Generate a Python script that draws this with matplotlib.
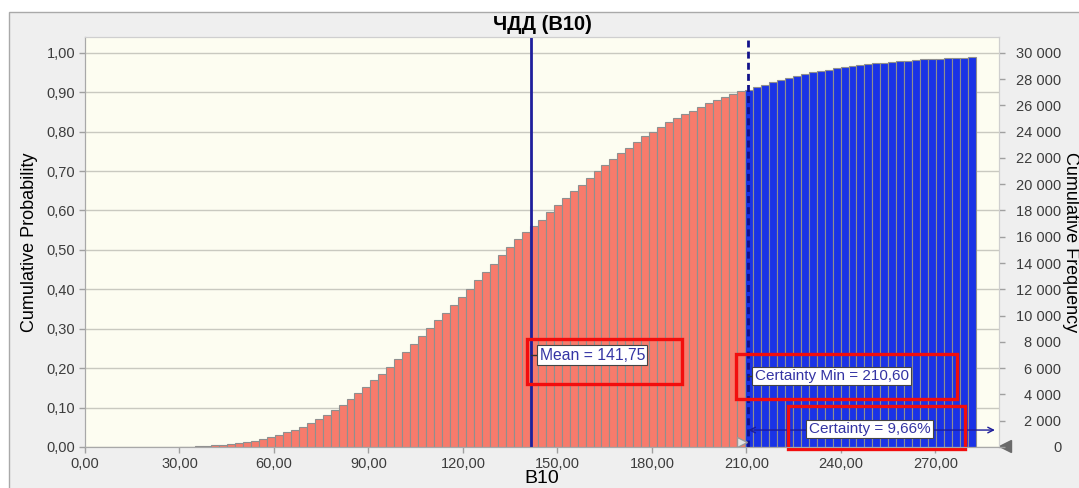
import matplotlib.pyplot as plt
import numpy as np
from matplotlib.patches import Rectangle
from matplotlib.ticker import FuncFormatter, MultipleLocator

plt.rcParams['font.family'] = ['Liberation Sans', 'DejaVu Sans']

# forecast B10, 30 000 trials, cumulative chart
trials = 30000
bin_start = 29.9
bin_width = 2.53
cum_prob = [
    0.0005, 0.001, 0.002, 0.003, 0.004, 0.006, 0.008, 0.010, 0.013, 0.016,
    0.020, 0.025, 0.031, 0.037, 0.044, 0.052, 0.061, 0.071, 0.082, 0.094,
    0.107, 0.121, 0.136, 0.152, 0.169, 0.186, 0.204, 0.223, 0.242, 0.261,
    0.281, 0.301, 0.321, 0.341, 0.361, 0.381, 0.402, 0.423, 0.444, 0.465,
    0.486, 0.507, 0.527, 0.545, 0.561, 0.577, 0.595, 0.614, 0.631, 0.650,
    0.664, 0.682, 0.699, 0.716, 0.731, 0.746, 0.759, 0.774, 0.789, 0.800,
    0.812, 0.824, 0.834, 0.844, 0.853, 0.862, 0.873, 0.880, 0.887, 0.895,
    0.902, 0.906, 0.912, 0.918, 0.925, 0.931, 0.936, 0.941, 0.945, 0.950,
    0.954, 0.957, 0.961, 0.963, 0.966, 0.970, 0.971, 0.973, 0.975, 0.977,
    0.978, 0.980, 0.982, 0.983, 0.984, 0.985, 0.986, 0.987, 0.988, 0.990,
]
mean_value = 141.75
certainty_min = 210.60
certainty_pct = 9.66

title = 'ЧДД (B10)'
x_label = 'B10'
y_label = 'Cumulative Probability'
y2_label = 'Cumulative Frequency'


def comma(v, digits=2):
    return f'{v:.{digits}f}'.replace('.', ',')


fig = plt.figure(figsize=(10.79, 4.88), dpi=100, facecolor='white')
fig.patches.append(Rectangle((9 / 1079, -0.1), 1.1, 476 / 488 + 0.1,
                             transform=fig.transFigure, fc='#efefef',
                             ec='#a9a9a9', lw=1, zorder=-10))
ax = fig.add_axes([85 / 1079, 41 / 488, 914 / 1079, 410 / 488])
ax.set_facecolor('#fdfdf1')

left_edges = bin_start + bin_width * np.arange(len(cum_prob))
centers = left_edges + bin_width / 2
colors = np.where(centers < certainty_min, '#f77b6c', '#1a33e6')
ax.bar(left_edges, cum_prob, width=bin_width, align='edge', color=colors,
       edgecolor='#8f8f8f', linewidth=0.8, zorder=2)

ax.set_xlim(0, 290.2)
ax.set_ylim(0, 1.04)
ax.xaxis.set_major_locator(MultipleLocator(30))
ax.yaxis.set_major_locator(MultipleLocator(0.1))
ax.xaxis.set_major_formatter(FuncFormatter(lambda v, p: comma(v)))
ax.yaxis.set_major_formatter(FuncFormatter(lambda v, p: comma(v)))
ax.yaxis.grid(True, color='#c9c9c0', lw=1)
ax.set_axisbelow(True)

ax2 = ax.twinx()
ax2.set_ylim(0, 1.04 * trials)
ax2.yaxis.set_major_locator(MultipleLocator(2000))
ax2.yaxis.set_major_formatter(FuncFormatter(lambda v, p: f'{int(v):,}'.replace(',', ' ')))

for a in (ax, ax2):
    for s in a.spines.values():
        s.set_color('#a8a8a8')
    a.spines['top'].set_color('#cfcfcf')
    a.spines['right'].set_color('#cfcfcf')
    a.tick_params(colors='#a0a0a0', labelcolor='#3c3c3c', labelsize=10.5,
                  length=4, width=1)
ax.tick_params(axis='y', pad=3)
ax2.tick_params(axis='y', pad=41)
for t in ax2.get_yticklabels():
    t.set_horizontalalignment('right')

ax.set_title(title, fontsize=14.5, fontweight='bold', pad=5)
ax.set_xlabel(x_label, fontsize=14, labelpad=-1)
ax.set_ylabel(y_label, fontsize=13, labelpad=6)
lab2 = ax2.set_ylabel(y2_label, fontsize=13, rotation=270)
lab2.set_rotation_mode('default')
lab2.set_va('center')
lab2.set_ha('center')
ax2.yaxis.set_label_coords((1071 - 85) / 914, 0.5)

# mean and certainty markers
ax.axvline(mean_value, color='#1f1f9c', lw=2, zorder=3)
ax.axvline(certainty_min, color='#12128a', lw=2, ls=(0, (2.5, 1.5)), zorder=3)

box = dict(boxstyle='square,pad=0.15', fc='white', ec='#444444', lw=0.8)
txt_color = '#3434a4'
ax.plot([mean_value, mean_value + 2], [0.233, 0.233], color='#333333', lw=1, zorder=4)
ax.text(mean_value + 2.6, 0.233, f'Mean = {comma(mean_value)}', color=txt_color,
        fontsize=11.3, va='center', ha='left', bbox=box, zorder=5)
ax.plot([certainty_min, certainty_min + 1.5], [0.180, 0.180], color='#333333', lw=1, zorder=4)
ax.text(certainty_min + 2.0, 0.180, f'Certainty Min = {comma(certainty_min)}',
        color=txt_color, fontsize=11, va='center', ha='left', bbox=box, zorder=5)
ax.annotate('', xy=(288.9, 0.043), xytext=(certainty_min, 0.043),
            arrowprops=dict(arrowstyle='<->', color='#1c1c9a', lw=1,
                            shrinkA=0, shrinkB=0),
            annotation_clip=False, zorder=4)
ax.text(229.8, 0.046, f'Certainty = {comma(certainty_pct)}%', color=txt_color,
        fontsize=11, va='center', ha='left', bbox=box, zorder=5)

# grabbers at the axis
ax.plot([certainty_min - 2], [0.012], marker='>', ms=7, mfc='#e4e4e4',
        mec='#999999', clip_on=False, zorder=6)
ax.plot([292], [0.003], marker='<', ms=8, mfc='#6a6a6a', mec='#6a6a6a',
        clip_on=False, zorder=6)

# red highlight frames
for (x0, x1, y0, y1) in [(140.3, 189.5, 0.160, 0.274),
                         (206.7, 276.8, 0.122, 0.236),
                         (223.2, 279.4, -0.005, 0.104)]:
    ax.add_patch(Rectangle((x0, y0), x1 - x0, y1 - y0, fill=False,
                           ec='#f20d0d', lw=2.4, clip_on=False, zorder=7))

fig.savefig('out.png', dpi=100)
